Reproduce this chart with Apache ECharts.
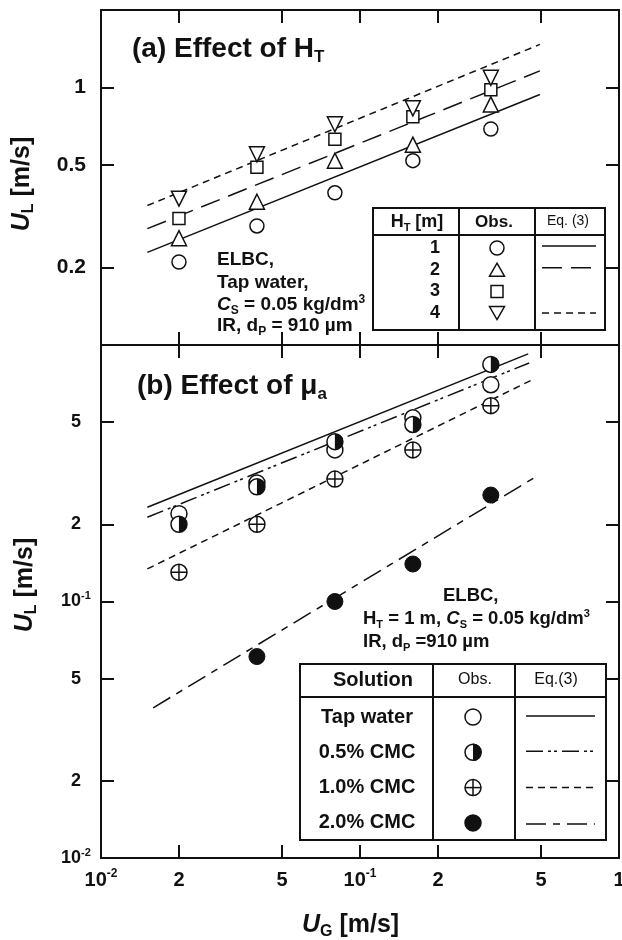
<!DOCTYPE html>
<html>
<head>
<meta charset="utf-8">
<script src="https://cdn.jsdelivr.net/npm/echarts@6/dist/echarts.min.js"></script>
<style>
  html, body { margin: 0; padding: 0; background: #fff; }
  #chart { width: 622px; height: 940px; }
</style>
</head>
<body>
<div id="chart"></div>
<script>
// Superficial gas velocity U_G [m/s] of the measured points
const ugObs = [0.02, 0.04, 0.08, 0.16, 0.32];

// (a) liquid velocity U_L [m/s] for column heights H_T = 1..4 m
const htLevels = ['1', '2', '3', '4'];
const ulHt1 = [0.21, 0.29, 0.39, 0.52, 0.69];
const ulHt2 = [0.26, 0.36, 0.52, 0.60, 0.86];
const ulHt3 = [0.31, 0.49, 0.63, 0.77, 0.98];
const ulHt4 = [0.37, 0.55, 0.72, 0.83, 1.09];

// (a) Eq.(3) predictions, given by their end points
const eqUgA = [0.0151, 0.495];
const eqHt1 = [0.229, 0.94];
const eqHt2 = [0.283, 1.16];
const eqHt4 = [0.348, 1.47];

// (b) U_L [m/s] for tap water and CMC solutions
const solutions = ['Tap water', '0.5% CMC', '1.0% CMC', '2.0% CMC'];
const ulTap = [0.22, 0.29, 0.39, 0.52, 0.70];
const ulCmc05 = [0.20, 0.28, 0.42, 0.49, 0.84];
const ulCmc10 = [0.13, 0.20, 0.30, 0.39, 0.58];
const ulCmc20 = [null, 0.061, 0.10, 0.14, 0.26];

// (b) Eq.(3) end points
const eqUgTap = [0.0151, 0.446];
const eqTap = [0.233, 0.923];
const eqUgCmc05 = [0.0151, 0.45];
const eqCmc05 = [0.213, 0.851];
const eqUgCmc10 = [0.0151, 0.46];
const eqCmc10 = [0.134, 0.73];
const eqUgCmc20 = [0.0159, 0.474];
const eqCmc20 = [0.0385, 0.305];

// Axis ticks and labels
const xTicks = [0.01, 0.02, 0.05, 0.1, 0.2, 0.5, 1];
const xTickLabels = ['10{sup|-2}', '2', '5', '10{sup|-1}', '2', '5', '1'];
const xInnerTicks = [0.02, 0.05, 0.1, 0.2, 0.5];
const yTicksA = [0.2, 0.5, 1];
const yTickLabelsA = ['0.2', '0.5', '1'];
const yTicksB = [0.01, 0.02, 0.05, 0.1, 0.2, 0.5];
const yTickLabelsB = ['10{sup|-2}', '2', '5', '10{sup|-1}', '2', '5'];
const yInnerTicksB = [0.02, 0.05, 0.1, 0.2, 0.5];

const FONT = '"Liberation Sans", Arial, Helvetica, sans-serif';
const INK = '#111';

function pairs(xs, ys) {
  return xs.map((x, i) => (ys[i] == null ? null : [x, ys[i]])).filter(Boolean);
}
function labelFor(values, labels) {
  return function (v) {
    for (let i = 0; i < values.length; i++) {
      if (Math.abs(Math.log10(v) - Math.log10(values[i])) < 1e-6) return labels[i];
    }
    return '';
  };
}
function richFor(size, weight) {
  const s = Math.round(size * 0.62);
  return {
    sub: { fontSize: s, fontWeight: weight, fontFamily: FONT, color: INK, fill: INK, verticalAlign: 'bottom', lineHeight: s },
    sup: { fontSize: s, fontWeight: weight, fontFamily: FONT, color: INK, fill: INK, verticalAlign: 'top', lineHeight: s },
    i: { fontSize: size, fontWeight: weight, fontStyle: 'italic', fontFamily: FONT, color: INK, fill: INK, lineHeight: Math.round(size * 1.2) }
  };
}

function logAxis(gridIndex, position, min, max, ticks, labelCfg) {
  const ax = {
    type: 'log', logBase: 10, gridIndex, position, min, max,
    axisLine: { show: true, onZero: false, lineStyle: { color: INK, width: 2 } },
    axisTick: { show: true, inside: true, length: 13, customValues: ticks, lineStyle: { color: INK, width: 2 } },
    axisLabel: { show: false },
    splitLine: { show: false },
    minorTick: { show: false },
    minorSplitLine: { show: false }
  };
  if (labelCfg) ax.axisLabel = labelCfg;
  return ax;
}

function txt(x, y, text, size, opts) {
  const weight = (opts && opts.fontWeight) || 'bold';
  return {
    type: 'text', x, y, z: 20,
    rotation: (opts && opts.rotation) || 0,
    style: Object.assign({
      text, fontSize: size, fontWeight: weight, fontFamily: FONT, fill: INK,
      lineHeight: Math.round(size * 1.2),
      align: 'left', verticalAlign: 'middle', textAlign: 'left', textVerticalAlign: 'middle',
      rich: richFor(size, weight)
    }, opts && opts.style || {})
  };
}
function center() { return { align: 'center', textAlign: 'center' }; }
function hline(x1, x2, y, dash, w) {
  return { type: 'line', z: 20, shape: { x1, y1: y, x2, y2: y }, style: { stroke: INK, lineWidth: w || 1.5, lineDash: dash || null } };
}
function vline(x, y1, y2) {
  return { type: 'line', z: 20, shape: { x1: x, y1, x2: x, y2 }, style: { stroke: INK, lineWidth: 2 } };
}
const SYM = { fill: '#fff', stroke: INK, lineWidth: 1.5 };
function circ(cx, cy, r, fill) {
  return { type: 'circle', z: 20, shape: { cx, cy, r }, style: Object.assign({}, SYM, fill ? { fill } : {}) };
}
function tri(cx, cy, w, h, down) {
  const t = down ? cy + h / 2 : cy - h / 2, b = down ? cy - h / 2 : cy + h / 2;
  return { type: 'polygon', z: 20, shape: { points: [[cx, t], [cx + w / 2, b], [cx - w / 2, b]] }, style: SYM };
}

// Line dash patterns of Eq.(3)
const DASH_LONG = [20, 9];
const DASH_SHORT = [7, 5];
const DASH_DOTDOT = [17, 5, 3, 3, 3, 5];
const DASH_DASH = [20, 7, 7, 7];

const HALF_DISC = 'path://M0,-10A10,10,0,0,1,0,10Z';
const CROSS_CIRCLE = 'path://M-10,0A10,10,0,1,1,10,0A10,10,0,1,1,-10,0ZM-10,0L10,0M0,-10L0,10';

const markerStyle = { color: '#fff', borderColor: INK, borderWidth: 1.5, opacity: 1 };

function eqLine(xi, yi, xs, ys, dash) {
  return {
    type: 'line', xAxisIndex: xi, yAxisIndex: yi, z: 2, symbol: 'none', silent: true,
    data: [[xs[0], ys[0]], [xs[1], ys[1]]],
    lineStyle: { color: INK, width: 1.5, type: dash || 'solid' }
  };
}
function obs(xi, yi, ys, symbol, size, extra) {
  return Object.assign({
    type: 'scatter', xAxisIndex: xi, yAxisIndex: yi, z: 4, silent: true,
    data: pairs(ugObs, ys), symbol, symbolSize: size,
    itemStyle: Object.assign({}, markerStyle)
  }, extra || {});
}

const xLabelCfg = {
  show: true, showMinLabel: true, showMaxLabel: true, customValues: xTicks,
  formatter: labelFor(xTicks, xTickLabels),
  fontSize: 20, fontWeight: 'bold', fontFamily: FONT, color: INK, margin: 10, lineHeight: 24,
  rich: richFor(20, 'bold')
};
const yLabelCfgA = {
  show: true, showMinLabel: true, showMaxLabel: true, customValues: yTicksA,
  formatter: labelFor(yTicksA, yTickLabelsA),
  fontSize: 21, fontWeight: 'bold', fontFamily: FONT, color: INK, margin: 15
};
const yLabelCfgB = {
  show: true, showMinLabel: true, showMaxLabel: true, customValues: yTicksB,
  formatter: labelFor(yTicksB, yTickLabelsB),
  fontSize: 18, fontWeight: 'bold', fontFamily: FONT, color: INK, margin: 25, align: 'center', lineHeight: 22,
  rich: richFor(18, 'bold')
};

// Legend table geometry
const rowA = i => 248 + i * 21.7;
const rowB = i => 717 + i * 35.3;

const graphics = [
  // axis titles
  txt(22, 184, '{i|U}{sub|L} [m/s]', 25, { rotation: Math.PI / 2, style: center() }),
  txt(25, 585, '{i|U}{sub|L} [m/s]', 25, { rotation: Math.PI / 2, style: center() }),
  txt(302, 925, '{i|U}{sub|G} [m/s]', 25),

  // (a) conditions
  txt(217, 260, 'ELBC,', 19),
  txt(217, 283, 'Tap water,', 19),
  txt(217, 305, '{i|C}{sub|S} = 0.05 kg/dm{sup|3}', 19),
  txt(217, 326, 'IR, d{sub|P} = 910 µm', 19),

  // (a) legend table
  { type: 'rect', z: 19, shape: { x: 373, y: 208, width: 232, height: 122 }, style: { fill: '#fff', stroke: INK, lineWidth: 2 } },
  hline(373, 605, 235, null, 2),
  vline(459, 208, 330),
  vline(535, 208, 330),
  txt(417, 222, 'H{sub|T} [m]', 18, { style: center() }),
  txt(494, 222, 'Obs.', 17, { style: center() }),
  txt(568, 221, 'Eq. (3)', 14, { fontWeight: 'normal', style: center() }),
  circ(497, rowA(0), 7),
  tri(497, rowA(1), 15, 13, false),
  { type: 'rect', z: 20, shape: { x: 491, y: rowA(2) - 6, width: 12, height: 12 }, style: SYM },
  tri(497, rowA(3), 15, 13, true),
  hline(542, 596, rowA(0) - 2),
  hline(542, 596, rowA(1) - 2, DASH_LONG),
  hline(542, 596, rowA(3), DASH_SHORT),

  // (b) conditions
  txt(443, 596, 'ELBC,', 18.5),
  txt(363, 619, 'H{sub|T} = 1 m, {i|C}{sub|S} = 0.05 kg/dm{sup|3}', 18.5),
  txt(363, 642, 'IR, d{sub|P} =910 µm', 18.5),

  // (b) legend table
  { type: 'rect', z: 19, shape: { x: 300, y: 664, width: 306, height: 176 }, style: { fill: '#fff', stroke: INK, lineWidth: 2 } },
  hline(300, 606, 697, null, 2),
  vline(433, 664, 840),
  vline(515, 664, 840),
  txt(373, 680, 'Solution', 20, { style: center() }),
  txt(475, 680, 'Obs.', 16, { fontWeight: 'normal', style: center() }),
  txt(556, 680, 'Eq.(3)', 16, { fontWeight: 'normal', style: center() }),
  circ(473, rowB(0), 8),
  circ(473, rowB(1), 8),
  { type: 'sector', z: 21, shape: { cx: 473, cy: rowB(1), r0: 0, r: 8.75, startAngle: -Math.PI / 2, endAngle: Math.PI / 2 }, style: { fill: INK } },
  circ(473, rowB(2), 8),
  hline(465, 481, rowB(2)),
  { type: 'line', z: 21, shape: { x1: 473, y1: rowB(2) - 8, x2: 473, y2: rowB(2) + 8 }, style: { stroke: INK, lineWidth: 1.5 } },
  circ(473, rowB(3), 8, INK),
  hline(526, 595, rowB(0) - 1),
  hline(526, 595, rowB(1) - 1, DASH_DOTDOT),
  hline(526, 595, rowB(2), DASH_SHORT),
  hline(526, 595, rowB(3) + 1, DASH_DASH)
];

htLevels.forEach((h, i) => graphics.push(txt(435, rowA(i), h, 18, { style: center() })));
solutions.forEach((s, i) => graphics.push(txt(367, rowB(i), s, 20, { style: center() })));

const option = {
  animation: false,
  backgroundColor: '#fff',
  title: [
    {
      text: '(a) Effect of H{sub|T}', left: 132, top: 32, padding: 0,
      textStyle: { fontSize: 28, fontWeight: 'bold', fontFamily: FONT, color: INK, lineHeight: 34, rich: richFor(28, 'bold') }
    },
    {
      text: '(b) Effect of μ{sub|a}', left: 137, top: 369, padding: 0,
      textStyle: { fontSize: 28, fontWeight: 'bold', fontFamily: FONT, color: INK, lineHeight: 34, rich: richFor(28, 'bold') }
    }
  ],
  grid: [
    { left: 101, right: 3, top: 10, height: 335, containLabel: false, outerBoundsMode: 'none' },
    { left: 101, right: 3, top: 345, height: 513, containLabel: false, outerBoundsMode: 'none' }
  ],
  xAxis: [
    logAxis(0, 'bottom', 0.01, 1, xInnerTicks),
    logAxis(0, 'top', 0.01, 1, xInnerTicks),
    logAxis(1, 'bottom', 0.01, 1, xInnerTicks, xLabelCfg),
    logAxis(1, 'top', 0.01, 1, xInnerTicks)
  ],
  yAxis: [
    logAxis(0, 'left', 0.1, 2, yTicksA, yLabelCfgA),
    logAxis(0, 'right', 0.1, 2, yTicksA),
    logAxis(1, 'left', 0.01, 1, yInnerTicksB, yLabelCfgB),
    logAxis(1, 'right', 0.01, 1, yInnerTicksB)
  ],
  series: [
    // (a) Eq.(3)
    eqLine(0, 0, eqUgA, eqHt1, 'solid'),
    eqLine(0, 0, eqUgA, eqHt2, DASH_LONG),
    eqLine(0, 0, eqUgA, eqHt4, DASH_SHORT),
    // (a) observations
    obs(0, 0, ulHt1, 'circle', 14),
    obs(0, 0, ulHt2, 'triangle', 15),
    obs(0, 0, ulHt3, 'rect', 12),
    obs(0, 0, ulHt4, 'triangle', 15, { symbolRotate: 180 }),
    // (b) Eq.(3)
    eqLine(2, 2, eqUgTap, eqTap, 'solid'),
    eqLine(2, 2, eqUgCmc05, eqCmc05, DASH_DOTDOT),
    eqLine(2, 2, eqUgCmc10, eqCmc10, DASH_SHORT),
    eqLine(2, 2, eqUgCmc20, eqCmc20, DASH_DASH),
    // (b) observations
    obs(2, 2, ulTap, 'circle', 16),
    obs(2, 2, ulCmc05, 'circle', 16),
    obs(2, 2, ulCmc05, HALF_DISC, 16, {
      symbolKeepAspect: true, symbolOffset: [4, 0], z: 5,
      itemStyle: { color: INK, borderWidth: 0, opacity: 1 }
    }),
    obs(2, 2, ulCmc10, CROSS_CIRCLE, 16),
    obs(2, 2, ulCmc20, 'circle', 16, { itemStyle: { color: INK, borderColor: INK, borderWidth: 1, opacity: 1 } })
  ],
  graphic: graphics
};

const chart = echarts.init(document.getElementById('chart'));
chart.setOption(option);
</script>
</body>
</html>
